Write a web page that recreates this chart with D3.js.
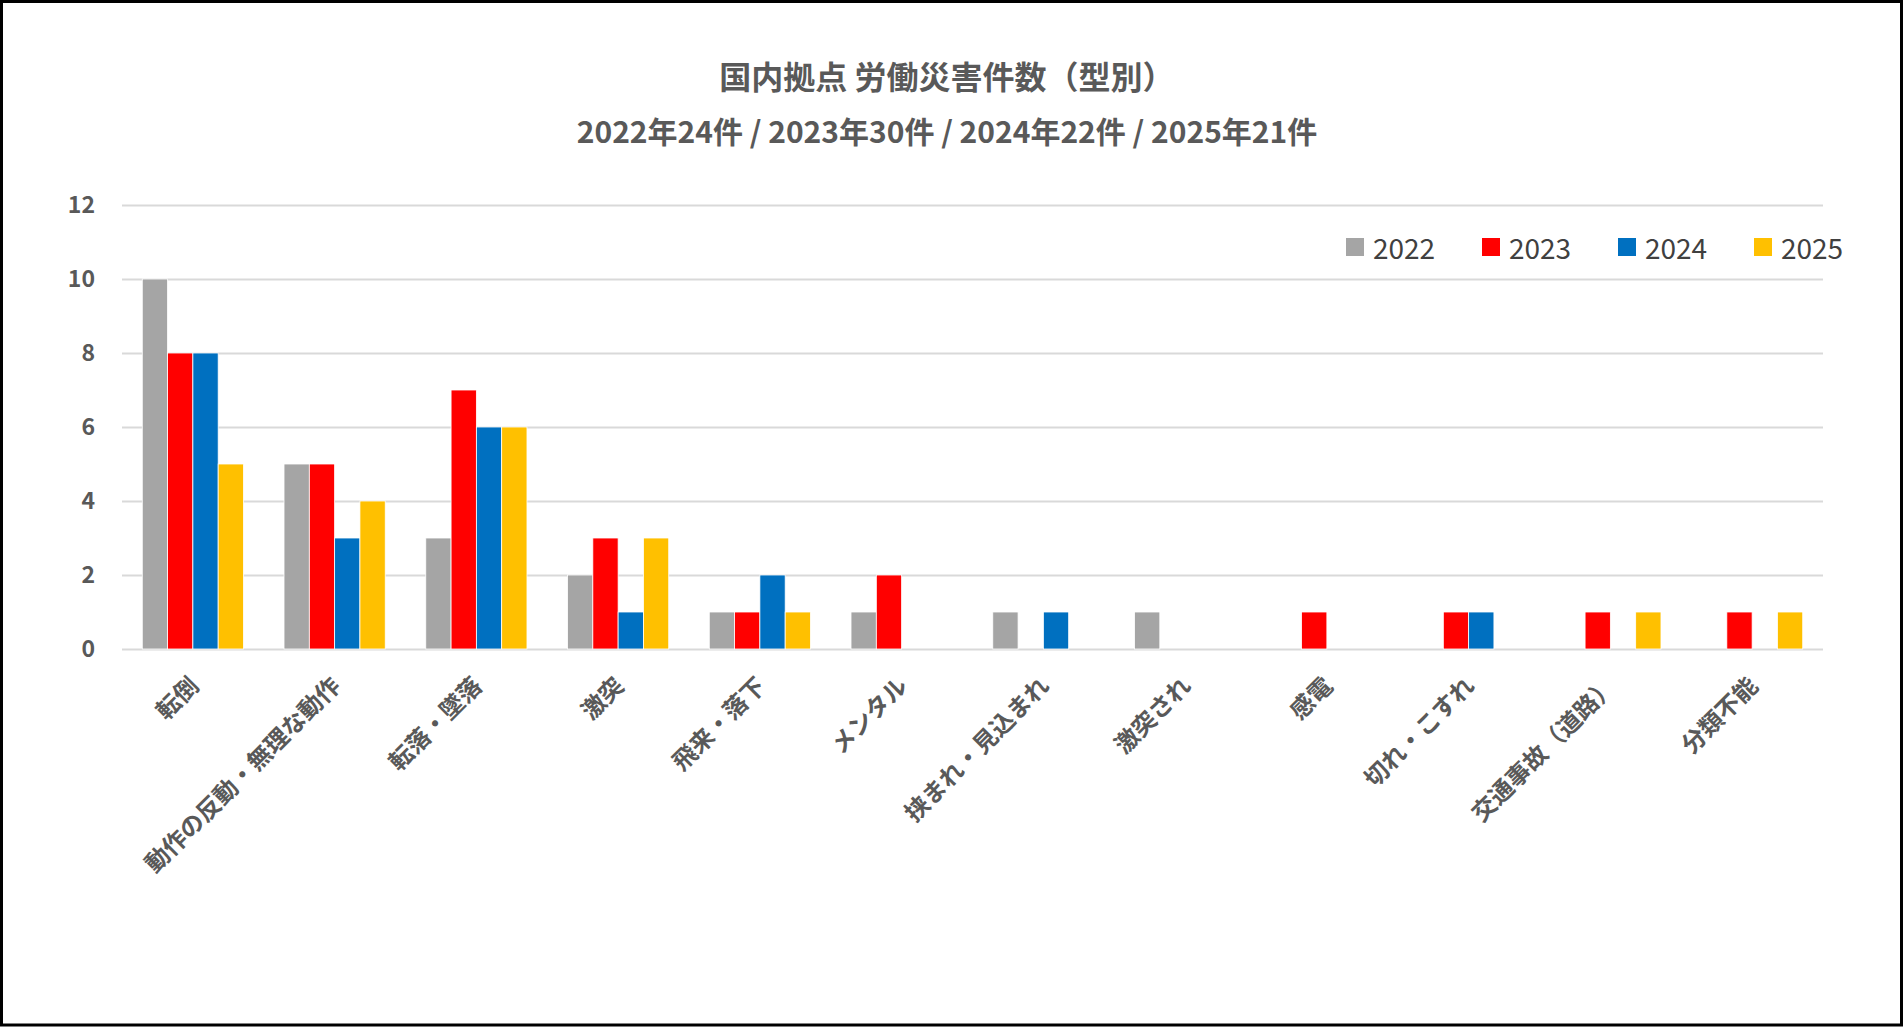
<!DOCTYPE html>
<html>
<head>
<meta charset="utf-8">
<script src="https://cdn.jsdelivr.net/npm/d3@7"></script>
<style>
  body { margin: 0; background: #fff; }
  text { font-family: "Noto Sans CJK JP", "Noto Sans", sans-serif; }
</style>
</head>
<body>
<script>
// 型別の労働災害件数
const categories = ['転倒', '動作の反動・無理な動作', '転落・墜落', '激突', '飛来・落下', 'メンタル',
  '挟まれ・見込まれ', '激突され', '感電', '切れ・こすれ', '交通事故（道路）', '分類不能'];
const years = ['2022', '2023', '2024', '2025'];
const values2022 = [10, 5, 3, 2, 1, 1, 1, 1, 0, 0, 0, 0];
const values2023 = [8, 5, 7, 3, 1, 2, 0, 0, 1, 1, 1, 1];
const values2024 = [8, 3, 6, 1, 2, 0, 1, 0, 0, 1, 0, 0];
const values2025 = [5, 4, 6, 3, 1, 0, 0, 0, 0, 0, 1, 1];
const yTicks = [0, 2, 4, 6, 8, 10, 12];
const colors = ['#A5A5A5', '#FF0000', '#0070C0', '#FFC000'];
const title1 = '国内拠点 労働災害件数（型別）';
const title2 = '2022年24件 / 2023年30件 / 2024年22件 / 2025年21件';

const series = [values2022, values2023, values2024, values2025];

const width = 1904, height = 1027;
const margin = { left: 122, right: 81, top: 205, bottom: 378 };

const svg = d3.select('body').append('svg').attr('width', width).attr('height', height)

svg.append('rect').attr('x', 1.5).attr('y', 1.5).attr('width', 1900).attr('height', 1023.5)
  .attr('fill', '#fff').attr('stroke', '#000').attr('stroke-width', 3)

const x0 = d3.scaleBand()
  .domain(categories)
  .range([margin.left, width - margin.right])
  .paddingInner(0.286)
  .paddingOuter(0.143)

const x1 = d3.scaleBand()
  .domain(years)
  .range([0, x0.bandwidth()])

const y = d3.scaleLinear()
  .domain([0, 12])
  .range([height - margin.bottom, margin.top])

// gridlines + labels
const yAxis = d3.axisLeft(y).tickValues(yTicks).tickSize(-(width - margin.left - margin.right)).tickPadding(27)
svg.append('g')
  .attr('transform', 'translate(' + margin.left + ',0)')
  .call(yAxis)
  .call(g => g.select('.domain').remove())
  .call(g => g.selectAll('line').attr('stroke', '#D9D9D9').attr('stroke-width', 2))
  .call(g => g.selectAll('text').attr('fill', '#595959').attr('font-size', 23).attr('font-weight', 600))

// bars
const groups = svg.append('g').selectAll('g')
  .data(categories)
  .join('g')
  .attr('transform', d => 'translate(' + x0(d) + ',0)')

groups.selectAll('rect')
  .data((d, i) => years.map((yr, j) => ({ yr: yr, v: series[j][i], c: colors[j] })))
  .join('rect')
  .filter(d => d.v > 0)
  .attr('x', d => x1(d.yr))
  .attr('y', d => y(d.v))
  .attr('width', x1.bandwidth())
  .attr('height', d => y(0) - y(d.v))
  .attr('fill', d => d.c)
  .attr('stroke', '#fff')
  .attr('stroke-width', 0.8)

// category labels
svg.append('g').selectAll('text')
  .data(categories)
  .join('text')
  .attr('transform', d => 'translate(' + (x0(d) + x0.bandwidth() / 2) + ',' + (y(0) + 31) + ') rotate(-45)')
  .attr('text-anchor', 'end')
  .attr('dominant-baseline', 'central')
  .attr('fill', '#595959')
  .attr('font-size', 24)
  .attr('font-weight', 700)
  .text(d => d)

// titles
svg.append('text').attr('x', 947).attr('y', 75).attr('text-anchor', 'middle').attr('dominant-baseline', 'central')
  .attr('fill', '#595959').attr('font-size', 32).attr('font-weight', 600).text(title1)
svg.append('text').attr('x', 947).attr('y', 130).attr('text-anchor', 'middle').attr('dominant-baseline', 'central')
  .attr('fill', '#595959').attr('font-size', 30).attr('font-weight', 700).text(title2)

// legend
const legend = svg.append('g').selectAll('g')
  .data(years)
  .join('g')
  .attr('transform', (d, i) => 'translate(' + (1346 + i * 136) + ',247)')
legend.append('rect').attr('x', 0).attr('y', -9).attr('width', 18).attr('height', 18)
  .attr('fill', (d, i) => colors[i])
legend.append('text').attr('x', 27).attr('y', 0).attr('dominant-baseline', 'central')
  .attr('fill', '#404040').attr('font-size', 28).text(d => d)
</script>
</body>
</html>
